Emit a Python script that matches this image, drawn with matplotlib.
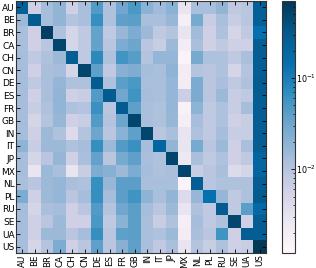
import numpy as np
import matplotlib
matplotlib.use("Agg")
import matplotlib.pyplot as plt
from matplotlib.colors import LogNorm

countries = ["AU", "BE", "BR", "CA", "CH", "CN", "DE", "ES", "FR", "GB",
             "IN", "IT", "JP", "MX", "NL", "PL", "RU", "SE", "UA", "US"]

row_AU = [0.25, 0.006, 0.013, 0.018, 0.006, 0.012, 0.045, 0.011, 0.030, 0.050, 0.020, 0.014, 0.020, 0.003, 0.012, 0.012, 0.018, 0.008, 0.009, 0.25]
row_BE = [0.015, 0.30, 0.013, 0.018, 0.010, 0.012, 0.065, 0.011, 0.038, 0.040, 0.012, 0.012, 0.016, 0.0018, 0.027, 0.007, 0.012, 0.007, 0.009, 0.25]
row_BR = [0.012, 0.006, 0.60, 0.011, 0.005, 0.008, 0.035, 0.008, 0.016, 0.025, 0.015, 0.008, 0.010, 0.003, 0.014, 0.006, 0.011, 0.005, 0.008, 0.14]
row_CA = [0.012, 0.006, 0.009, 0.50, 0.005, 0.008, 0.036, 0.009, 0.025, 0.032, 0.009, 0.007, 0.015, 0.002, 0.012, 0.006, 0.008, 0.006, 0.006, 0.27]
row_CH = [0.013, 0.008, 0.011, 0.015, 0.27, 0.008, 0.075, 0.011, 0.055, 0.042, 0.010, 0.017, 0.017, 0.0014, 0.027, 0.011, 0.011, 0.008, 0.012, 0.27]
row_CN = [0.013, 0.006, 0.012, 0.013, 0.005, 0.50, 0.038, 0.008, 0.021, 0.024, 0.013, 0.012, 0.019, 0.002, 0.010, 0.009, 0.011, 0.005, 0.010, 0.26]
row_DE = [0.013, 0.008, 0.012, 0.017, 0.011, 0.011, 0.30, 0.011, 0.040, 0.050, 0.012, 0.012, 0.017, 0.002, 0.026, 0.009, 0.012, 0.008, 0.011, 0.28]
row_ES = [0.013, 0.006, 0.012, 0.018, 0.006, 0.007, 0.045, 0.30, 0.030, 0.056, 0.013, 0.012, 0.017, 0.0065, 0.026, 0.009, 0.015, 0.007, 0.008, 0.27]
row_FR = [0.013, 0.007, 0.011, 0.018, 0.011, 0.010, 0.060, 0.009, 0.30, 0.038, 0.012, 0.011, 0.017, 0.0016, 0.019, 0.008, 0.011, 0.007, 0.013, 0.27]
row_GB = [0.013, 0.005, 0.010, 0.016, 0.006, 0.007, 0.045, 0.010, 0.032, 0.50, 0.012, 0.011, 0.016, 0.0018, 0.013, 0.008, 0.011, 0.006, 0.007, 0.27]
row_IN = [0.013, 0.006, 0.015, 0.011, 0.004, 0.010, 0.032, 0.009, 0.020, 0.038, 0.50, 0.009, 0.012, 0.003, 0.011, 0.008, 0.013, 0.007, 0.007, 0.26]
row_IT = [0.019, 0.007, 0.015, 0.015, 0.011, 0.013, 0.065, 0.015, 0.045, 0.060, 0.013, 0.20, 0.018, 0.003, 0.027, 0.009, 0.015, 0.006, 0.012, 0.27]
row_JP = [0.013, 0.005, 0.009, 0.017, 0.006, 0.012, 0.036, 0.009, 0.027, 0.038, 0.012, 0.011, 0.50, 0.0025, 0.012, 0.008, 0.011, 0.006, 0.008, 0.20]
row_MX = [0.013, 0.003, 0.015, 0.012, 0.003, 0.007, 0.025, 0.021, 0.015, 0.025, 0.013, 0.011, 0.012, 0.50, 0.007, 0.009, 0.012, 0.004, 0.005, 0.20]
row_NL = [0.012, 0.009, 0.015, 0.017, 0.012, 0.011, 0.065, 0.016, 0.040, 0.040, 0.012, 0.012, 0.012, 0.0014, 0.27, 0.009, 0.011, 0.011, 0.011, 0.26]
row_PL = [0.025, 0.006, 0.015, 0.017, 0.009, 0.013, 0.065, 0.013, 0.040, 0.056, 0.019, 0.012, 0.018, 0.004, 0.016, 0.14, 0.017, 0.008, 0.011, 0.30]
row_RU = [0.013, 0.005, 0.012, 0.013, 0.006, 0.009, 0.045, 0.010, 0.030, 0.040, 0.013, 0.009, 0.015, 0.003, 0.011, 0.008, 0.30, 0.008, 0.040, 0.18]
row_SE = [0.013, 0.006, 0.009, 0.015, 0.006, 0.006, 0.050, 0.008, 0.020, 0.040, 0.012, 0.007, 0.011, 0.0018, 0.013, 0.008, 0.011, 0.50, 0.006, 0.26]
row_UA = [0.013, 0.006, 0.015, 0.015, 0.009, 0.013, 0.065, 0.009, 0.038, 0.040, 0.012, 0.011, 0.015, 0.002, 0.012, 0.009, 0.056, 0.006, 0.27, 0.27]
row_US = [0.013, 0.005, 0.010, 0.025, 0.006, 0.009, 0.038, 0.009, 0.021, 0.038, 0.012, 0.008, 0.012, 0.003, 0.010, 0.007, 0.011, 0.006, 0.007, 0.70]

matrix = np.array([row_AU, row_BE, row_BR, row_CA, row_CH, row_CN, row_DE, row_ES,
                   row_FR, row_GB, row_IN, row_IT, row_JP, row_MX, row_NL, row_PL,
                   row_RU, row_SE, row_UA, row_US])

W, H = 316, 268
fig = plt.figure(figsize=(W / 100, H / 100), dpi=100)
ax = fig.add_axes([16 / W, 15 / H, 250 / W, 252 / H])
norm = LogNorm(vmin=0.0012, vmax=0.70)
im = ax.imshow(matrix, cmap="PuBu", norm=norm, aspect="auto", interpolation="nearest")

n = len(countries)
ax.set_xticks(np.arange(n))
ax.set_yticks(np.arange(n))
ax.set_xticklabels(countries, rotation=90, fontsize=6.3)
ax.set_yticklabels(countries, fontsize=6.5)
ax.tick_params(direction="in", top=True, right=True, length=3, width=0.6, pad=1)
for s in ax.spines.values():
    s.set_linewidth(0.8)
    s.set_color("#333333")

cax = fig.add_axes([282 / W, 15 / H, 13 / W, 252 / H])
cb = fig.colorbar(im, cax=cax)
cb.ax.tick_params(labelsize=5.8, direction="in", length=3, width=0.6, pad=0.6)
cb.ax.tick_params(which="minor", direction="in", length=1.5, width=0.5)
cb.outline.set_linewidth(0.8)
cb.outline.set_edgecolor("#333333")

fig.savefig("out.png", dpi=100)
